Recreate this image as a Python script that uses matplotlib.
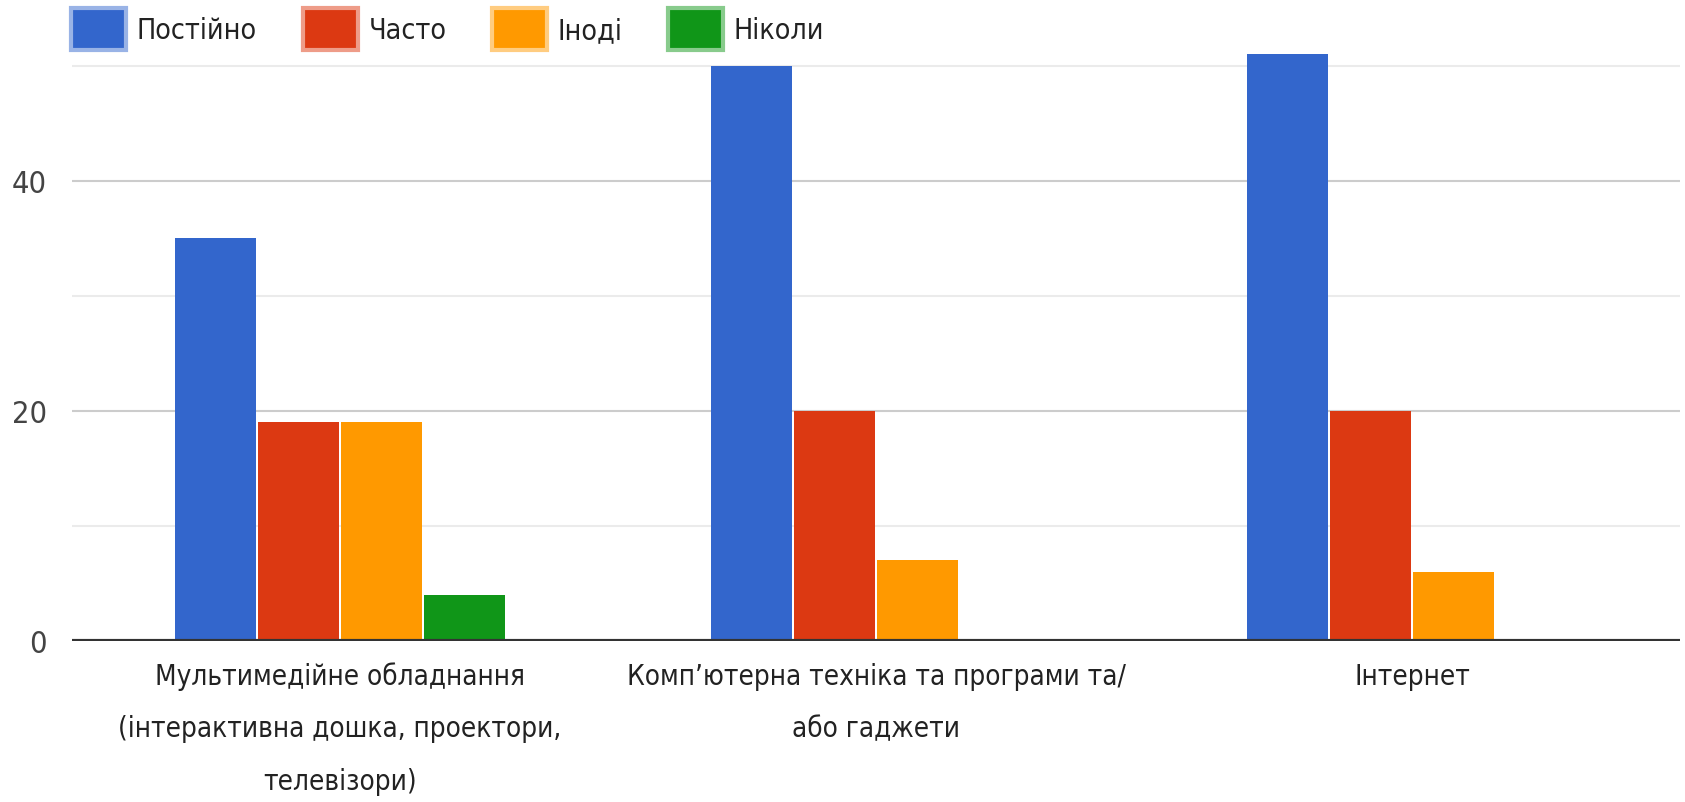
import matplotlib
matplotlib.use("Agg")
import matplotlib.pyplot as plt
from matplotlib.patches import Patch
import numpy as np

plt.rcParams['font.family'] = ['DejaVu Sans']
plt.rcParams['font.stretch'] = 'condensed'

categories = [
    "Мультимедійне обладнання\n(інтерактивна дошка, проектори,\nтелевізори)",
    "Комп’ютерна техніка та програми та/\nабо гаджети",
    "Інтернет",
]
series_names = ["Постійно", "Часто", "Іноді", "Ніколи"]
postiyno = [35, 50, 51]
chasto = [19, 20, 20]
inodi = [19, 7, 6]
nikoly = [4, 0, 0]
colors = ["#3366cc", "#dc3912", "#ff9900", "#109618"]
edge_light = ["#99b3e6", "#ee9c88", "#ffcc80", "#88cb8c"]

series = [postiyno, chasto, inodi, nikoly]

fig = plt.figure(figsize=(16.85, 8.03), dpi=100)
ax = fig.add_axes([0.0427, 0.2009, 0.9543, 0.7447])

x = np.arange(len(categories))
pitch = 0.155
width = 0.15
for i, vals in enumerate(series):
    ax.bar(x + (i - 1.5) * pitch, vals, width, color=colors[i], zorder=3)

ax.set_xlim(-0.5, 2.5)
ax.set_ylim(0, 52)

# gridlines
for v in [10, 30, 50]:
    ax.axhline(v, color="#ebebeb", lw=1.5, zorder=1)
for v in [20, 40]:
    ax.axhline(v, color="#cccccc", lw=1.5, zorder=1)
ax.axhline(0, color="#333333", lw=3, zorder=4)

ax.set_yticks([0, 20, 40])
ax.set_yticklabels(["0", "20", "40"])
ax.set_xticks(x)
ax.set_xticklabels(categories, linespacing=2.1)
ax.tick_params(axis="y", length=0, pad=18, labelsize=22, labelcolor="#444444")
ax.tick_params(axis="x", length=0, pad=15, labelsize=20, labelcolor="#222222")
for s in ax.spines.values():
    s.set_visible(False)

handles = [Patch(facecolor=colors[i], edgecolor=edge_light[i], linewidth=3)
           for i in range(4)]
fig.legend(handles, series_names, loc="upper left", bbox_to_anchor=(0.027, 1.021),
           ncol=4, frameon=False, fontsize=20.5, handlelength=1.93, handleheight=1.9,
           handletextpad=0.38, columnspacing=1.6, labelcolor="#222222")

fig.savefig("out.png", dpi=100)
